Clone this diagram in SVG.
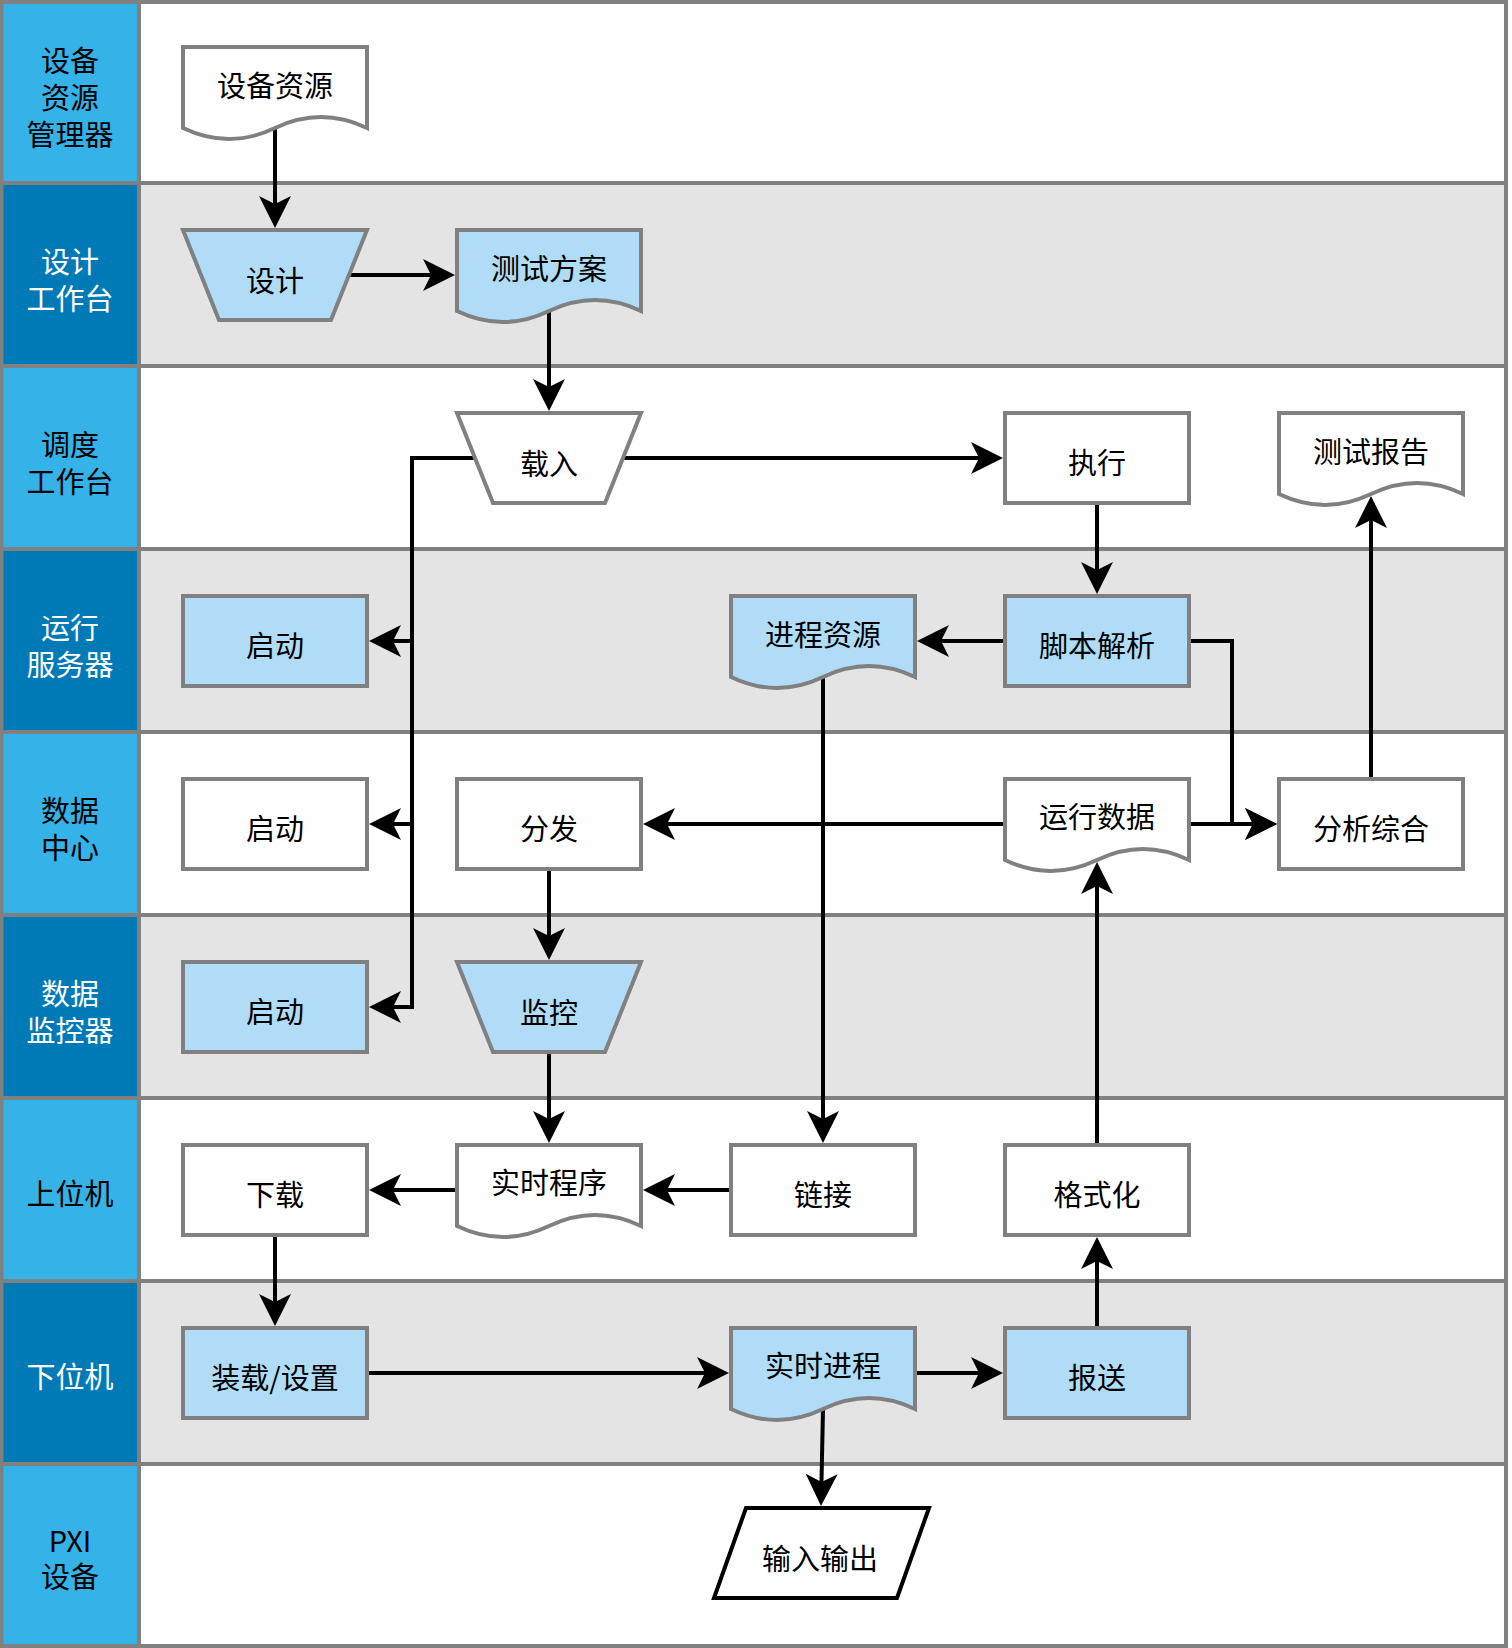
<svg xmlns="http://www.w3.org/2000/svg" width="1512" height="1648" viewBox="0 0 1512 1648">
<style>
.ll{fill:#35b2e7}.ld{fill:#007ab6}.cw{fill:#ffffff}.cg{fill:#e4e4e4}
.grid{stroke:#808080;stroke-width:4;fill:none}
.n{stroke:#808080;stroke-width:4}
.w{fill:#ffffff}.b{fill:#b0dcf7}
.t{font-family:"Noto Sans CJK SC","Noto Sans",sans-serif;font-size:29px;text-anchor:middle;fill:#000}
.tw{fill:#ffffff}
.e{stroke:#000;stroke-width:4;fill:none;marker-end:url(#a)}
</style>
<defs>
<marker id="a" markerUnits="userSpaceOnUse" viewBox="0 0 32 32" markerWidth="32" markerHeight="32" refX="12" refY="16" orient="auto">
<path d="M32,16 L0,0 L8,16 L0,32 Z" fill="#000"/>
</marker>
</defs>
<rect x="0" y="0" width="1512" height="1648" fill="#ffffff"/>
<g id="lanes">
<rect class="ll" x="0" y="0" width="139" height="183"/><rect class="cw" x="139" y="0" width="1369" height="183"/>
<rect class="ld" x="0" y="183" width="139" height="183"/><rect class="cg" x="139" y="183" width="1369" height="183"/>
<rect class="ll" x="0" y="366" width="139" height="183"/><rect class="cw" x="139" y="366" width="1369" height="183"/>
<rect class="ld" x="0" y="549" width="139" height="183"/><rect class="cg" x="139" y="549" width="1369" height="183"/>
<rect class="ll" x="0" y="732" width="139" height="183"/><rect class="cw" x="139" y="732" width="1369" height="183"/>
<rect class="ld" x="0" y="915" width="139" height="183"/><rect class="cg" x="139" y="915" width="1369" height="183"/>
<rect class="ll" x="0" y="1098" width="139" height="183"/><rect class="cw" x="139" y="1098" width="1369" height="183"/>
<rect class="ld" x="0" y="1281" width="139" height="183"/><rect class="cg" x="139" y="1281" width="1369" height="183"/>
<rect class="ll" x="0" y="1464" width="139" height="184"/><rect class="cw" x="139" y="1464" width="1369" height="184"/>
<path class="grid" d="M0,2H1508M0,183H1508M0,366H1508M0,549H1508M0,732H1508M0,915H1508M0,1098H1508M0,1281H1508M0,1464H1508M0,1646H1508M1.5,0V1648M139,0V1648M1506,0V1648"/>
<text class="t" x="70" y="72">设备</text><text class="t" x="70" y="109">资源</text><text class="t" x="70" y="146">管理器</text>
<text class="t tw" x="70" y="273">设计</text><text class="t tw" x="70" y="310">工作台</text>
<text class="t" x="70" y="456">调度</text><text class="t" x="70" y="493">工作台</text>
<text class="t tw" x="70" y="639">运行</text><text class="t tw" x="70" y="676">服务器</text>
<text class="t" x="70" y="822">数据</text><text class="t" x="70" y="859">中心</text>
<text class="t tw" x="70" y="1005">数据</text><text class="t tw" x="70" y="1042">监控器</text>
<text class="t" x="70" y="1205">上位机</text>
<text class="t tw" x="70" y="1388">下位机</text>
<text class="t" x="70" y="1552">PXI</text><text class="t" x="70" y="1588">设备</text>
</g>
<g id="connectors">
<path class="e" d="M275,128V208"/>
<path class="e" d="M349,275H435"/>
<path class="e" d="M549,311V391"/>
<path class="e" d="M623,458H983"/>
<path class="e" d="M475,458H412V1007H389"/>
<path class="e" d="M412,641H389"/>
<path class="e" d="M412,824H389"/>
<path class="e" d="M1097,505V574"/>
<path class="e" d="M1003,641H937"/>
<path class="e" d="M1191,641H1232V824H1257"/>
<path class="e" d="M1191,824H1257"/>
<path class="e" d="M1003,824H663"/>
<path class="e" d="M1371,777V516"/>
<path class="e" d="M823,677V1123"/>
<path class="e" d="M549,871V940"/>
<path class="e" d="M549,1054V1123"/>
<path class="e" d="M729,1190H663"/>
<path class="e" d="M455,1190H389"/>
<path class="e" d="M275,1237V1306"/>
<path class="e" d="M369,1373H709"/>
<path class="e" d="M917,1373H983"/>
<path class="e" d="M1097,1326V1257"/>
<path class="e" d="M1097,1143V882"/>
<path class="e" d="M823,1409L821.4,1486"/>
</g>
<g id="n-shebeiziyuan"><path class="n w" d="M183,47H367V128Q321,106 275,128Q229,150 183,128Z"/><text class="t" x="275" y="97">设备资源</text></g>
<g id="n-sheji"><path class="n b" d="M183,230H367L331,320H219Z"/><text class="t" x="275" y="292">设计</text></g>
<g id="n-ceshifangan"><path class="n b" d="M457,230H641V311Q595,289 549,311Q503,333 457,311Z"/><text class="t" x="549" y="280">测试方案</text></g>
<g id="n-zairu"><path class="n w" d="M457,413H641L605,503H493Z"/><text class="t" x="549" y="475">载入</text></g>
<g id="n-zhixing"><rect class="n w" x="1005" y="413" width="184" height="90"/><text class="t" x="1097" y="474">执行</text></g>
<g id="n-ceshibaogao"><path class="n w" d="M1279,413H1463V494Q1417,472 1371,494Q1325,516 1279,494Z"/><text class="t" x="1371" y="463">测试报告</text></g>
<g id="n-qidong1"><rect class="n b" x="183" y="596" width="184" height="90"/><text class="t" x="275" y="657">启动</text></g>
<g id="n-jinchengziyuan"><path class="n b" d="M731,596H915V677Q869,655 823,677Q777,699 731,677Z"/><text class="t" x="823" y="646">进程资源</text></g>
<g id="n-jiaobenjiexi"><rect class="n b" x="1005" y="596" width="184" height="90"/><text class="t" x="1097" y="657">脚本解析</text></g>
<g id="n-qidong2"><rect class="n w" x="183" y="779" width="184" height="90"/><text class="t" x="275" y="840">启动</text></g>
<g id="n-fenfa"><rect class="n w" x="457" y="779" width="184" height="90"/><text class="t" x="549" y="840">分发</text></g>
<g id="n-yunxingshuju"><path class="n w" d="M1005,779H1189V860Q1143,838 1097,860Q1051,882 1005,860Z"/><text class="t" x="1097" y="828">运行数据</text></g>
<g id="n-fenxizonghe"><rect class="n w" x="1279" y="779" width="184" height="90"/><text class="t" x="1371" y="840">分析综合</text></g>
<g id="n-qidong3"><rect class="n b" x="183" y="962" width="184" height="90"/><text class="t" x="275" y="1023">启动</text></g>
<g id="n-jiankong"><path class="n b" d="M457,962H641L605,1052H493Z"/><text class="t" x="549" y="1024">监控</text></g>
<g id="n-xiazai"><rect class="n w" x="183" y="1145" width="184" height="90"/><text class="t" x="275" y="1206">下载</text></g>
<g id="n-shishichengxu"><path class="n w" d="M457,1145H641V1226Q595,1204 549,1226Q503,1248 457,1226Z"/><text class="t" x="549" y="1194">实时程序</text></g>
<g id="n-lianjie"><rect class="n w" x="731" y="1145" width="184" height="90"/><text class="t" x="823" y="1206">链接</text></g>
<g id="n-geshihua"><rect class="n w" x="1005" y="1145" width="184" height="90"/><text class="t" x="1097" y="1206">格式化</text></g>
<g id="n-zhuangzai"><rect class="n b" x="183" y="1328" width="184" height="90"/><text class="t" x="275" y="1389">装载/设置</text></g>
<g id="n-shishijincheng"><path class="n b" d="M731,1328H915V1409Q869,1387 823,1409Q777,1431 731,1409Z"/><text class="t" x="823" y="1377">实时进程</text></g>
<g id="n-baosong"><rect class="n b" x="1005" y="1328" width="184" height="90"/><text class="t" x="1097" y="1389">报送</text></g>
<g id="n-shurushuchu"><path d="M746,1508H929L897,1598H714Z" fill="#ffffff" stroke="#000" stroke-width="4"/><text class="t" x="820" y="1570">输入输出</text></g>
</svg>
